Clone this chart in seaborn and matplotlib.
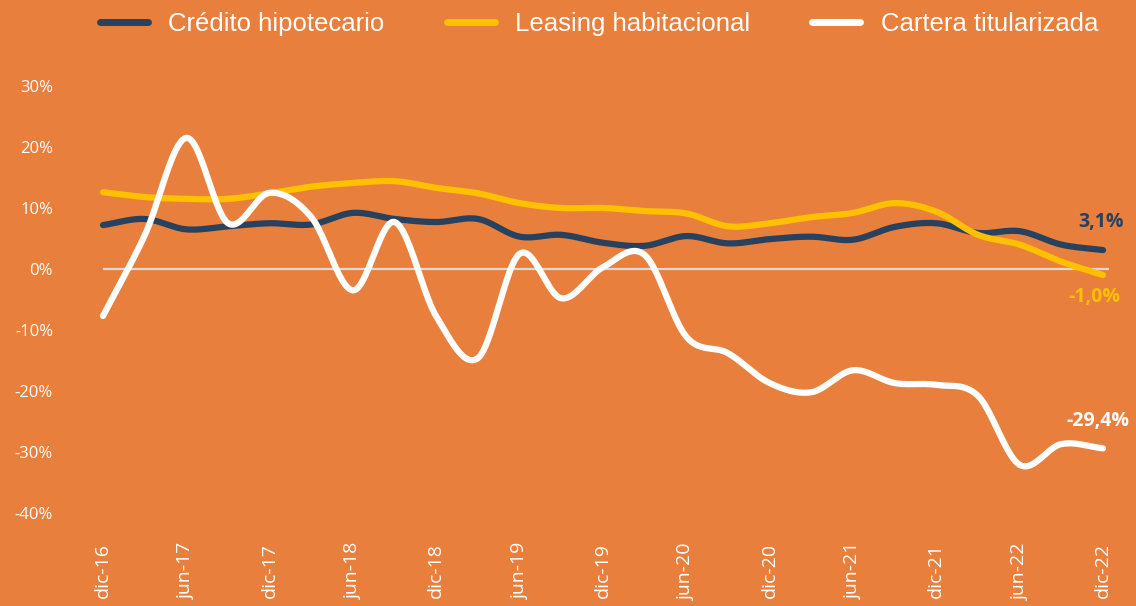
import numpy as np
import pandas as pd
import matplotlib
matplotlib.use("Agg")
import matplotlib.pyplot as plt
import seaborn as sns

# ---- data (quarterly, dic-16 .. dic-22), % yoy ----
quarters = ["dic-16", "mar-17", "jun-17", "sep-17", "dic-17", "mar-18", "jun-18", "sep-18",
            "dic-18", "mar-19", "jun-19", "sep-19", "dic-19", "mar-20", "jun-20", "sep-20",
            "dic-20", "mar-21", "jun-21", "sep-21", "dic-21", "mar-22", "jun-22", "sep-22",
            "dic-22"]
credito = [7.2, 8.2, 6.5, 7.0, 7.5, 7.3, 9.2, 8.2, 7.7, 8.2, 5.3, 5.6, 4.3, 3.8, 5.4, 4.2,
           4.9, 5.3, 4.8, 6.9, 7.5, 5.9, 6.2, 4.0, 3.1]
leasing = [12.6, 11.8, 11.5, 11.5, 12.4, 13.5, 14.1, 14.4, 13.3, 12.4, 10.8, 10.0, 10.0, 9.5,
           9.1, 7.0, 7.5, 8.5, 9.2, 10.8, 9.4, 5.6, 4.0, 1.2, -1.0]
cartera = [-7.7, 5.5, 21.5, 7.5, 12.5, 8.5, -3.5, 7.7, -7.8, -14.6, 2.5, -4.8, 0.3, 2.3,
           -11.1, -13.8, -18.7, -20.2, -16.6, -18.7, -19.0, -20.8, -32.1, -28.7, -29.4]
series_names = ["Crédito hipotecario", "Leasing habitacional", "Cartera titularizada"]
end_labels = ["3,1%", "-1,0%", "-29,4%"]
tick_positions = list(range(0, 25, 2))
tick_labels = [quarters[i] for i in tick_positions]
yticks = [30, 20, 10, 0, -10, -20, -30, -40]

BG = "#E97F3C"
colors = ["#27415F", "#FFC000", "#FFFFFF"]


def smooth(xs, ys, n=24):
    """Catmull-Rom rendering of an Excel-style smoothed line (visual only)."""
    xs = np.asarray(xs, float)
    ys = np.asarray(ys, float)
    P = np.column_stack([xs, ys])
    P = np.vstack([2 * P[0] - P[1], P, 2 * P[-1] - P[-2]])
    out = []
    for i in range(1, len(P) - 2):
        p0, p1, p2, p3 = P[i - 1], P[i], P[i + 1], P[i + 2]
        t = np.linspace(0, 1, n, endpoint=False)[:, None]
        c = 0.5 * ((2 * p1) + (-p0 + p2) * t + (2 * p0 - 5 * p1 + 4 * p2 - p3) * t ** 2
                   + (-p0 + 3 * p1 - 3 * p2 + p3) * t ** 3)
        out.append(c)
    out.append(P[-2][None, :])
    out = np.vstack(out)
    return out[:, 0], out[:, 1]


sns.set_theme(style="white")
plt.rcParams["font.family"] = ["Open Sans", "DejaVu Sans"]

fig = plt.figure(figsize=(11.36, 6.06), dpi=100, facecolor=BG)
ax = fig.add_axes([60 / 1136, 1 - 530 / 606, 1065 / 1136, 470 / 606])
ax.set_facecolor(BG)

x = np.arange(len(quarters))
ax.hlines(0, x[0], x[-1] + 0.15, color="#D9D9D9", lw=1.6, zorder=1)

for name, vals, col in zip(series_names, [credito, leasing, cartera], colors):
    sx, sy = smooth(x, vals)
    df = pd.DataFrame({"x": sx, "y": sy})
    sns.lineplot(data=df, x="x", y="y", ax=ax, color=col, lw=4.5, estimator=None,
                 sort=False, solid_capstyle="round", zorder=3, label=name)

offsets = [(-1.5, 20), (-6, -16), (-4, 19.5)]
for vals, lab, col, off in zip([credito, leasing, cartera], end_labels, colors, offsets):
    ax.annotate(lab, xy=(x[-1], vals[-1]), xytext=off, textcoords="offset points",
                ha="center", va="center", color=col, fontsize=14, fontweight="bold")

ax.set_xlim((60 - 103) / (1000 / 24), (1125 - 103) / (1000 / 24))
ax.set_ylim((269 - 530) / 6.1, (269 - 60) / 6.1)
ax.set_xticks(tick_positions)
ax.set_xticklabels(tick_labels, rotation=90, color="white", fontsize=14)
ax.set_yticks(yticks)
ax.set_yticklabels([f"{v}%" for v in yticks], color="white", fontsize=12)
ax.tick_params(axis="x", length=0, pad=9.4)
ax.tick_params(axis="y", length=0, pad=5)
ax.set_xlabel("")
ax.set_ylabel("")
for s in ax.spines.values():
    s.set_visible(False)
ax.grid(False)

h, l = ax.get_legend_handles_labels()
ax.get_legend().remove()
for hh in h:
    hh.set_solid_capstyle("round")
leg = fig.legend(h, l, loc="center left", bbox_to_anchor=(100 / 1136, 1 - 24 / 606),
                 ncol=3, frameon=False, borderpad=0, borderaxespad=0,
                 handlelength=1.87, handletextpad=0.78, columnspacing=2.43,
                 prop={"family": "Liberation Sans", "size": 18.5})
for t in leg.get_texts():
    t.set_color("white")
for lh in leg.get_lines():
    lh.set_linewidth(5)

fig.savefig("out.png", dpi=100, facecolor=BG)
